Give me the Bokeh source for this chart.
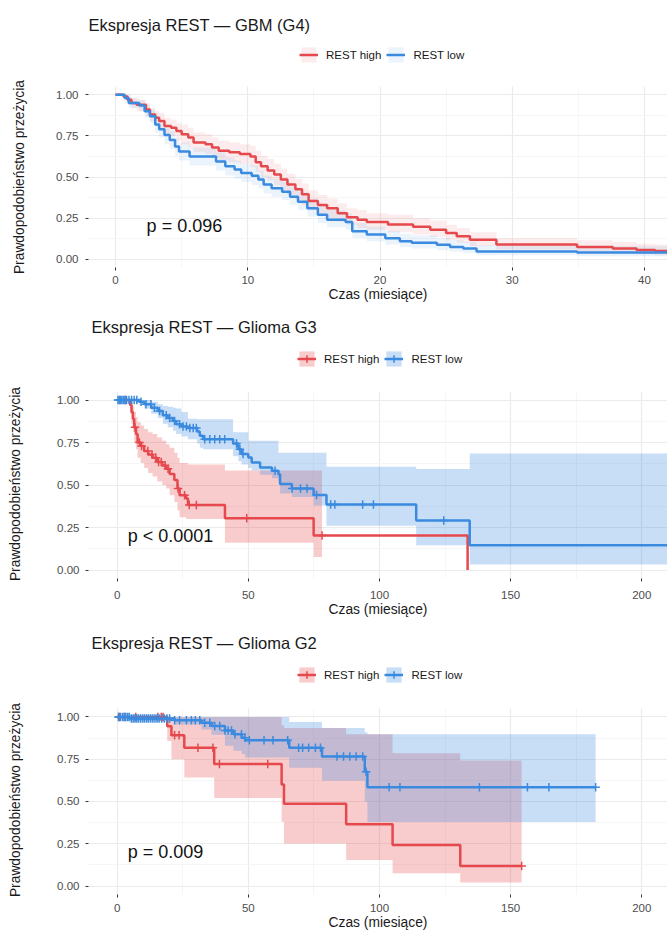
from bokeh.plotting import figure
from bokeh.models import Range1d, FixedTicker, Legend, LegendItem, NumeralTickFormatter, BoxAnnotation
from bokeh.layouts import column
from bokeh.embed import file_html
from bokeh.resources import INLINE
from bokeh.core.properties import value

RED = "#E5484D"
BLUE = "#3A8AE0"
FONT = "Liberation Sans"

# ---------------- data: GBM (G4) ----------------
gbm_high_t = [0, 0.6, 0.9, 1.2, 1.6, 2.3, 2.6, 3.0, 3.3, 3.7, 4.2, 4.6, 5.0, 5.5, 5.9, 6.8, 7.3, 7.8, 8.6, 9.4,
              10.2, 10.6, 11.0, 11.5, 12.0, 12.5, 13.0, 13.6, 14.1, 14.6, 15.3, 16.0, 16.8, 17.5, 18.3, 19.0,
              20.6, 22.5, 23.8, 25.0, 25.8, 26.8, 28.8, 34.9, 37.6, 39.4, 40.8]
gbm_high_s = [1.0, 0.99, 0.97, 0.95, 0.94, 0.91, 0.88, 0.86, 0.84, 0.81, 0.80, 0.78, 0.76, 0.74, 0.71, 0.70, 0.68,
              0.66, 0.65, 0.64, 0.625, 0.59, 0.565, 0.54, 0.515, 0.485, 0.455, 0.425, 0.395, 0.355, 0.33, 0.31,
              0.28, 0.255, 0.24, 0.227, 0.212, 0.197, 0.18, 0.16, 0.14, 0.118, 0.09, 0.075, 0.065, 0.056, 0.05]
gbm_high_lo = [1.0, 0.97, 0.94, 0.92, 0.90, 0.87, 0.84, 0.81, 0.79, 0.76, 0.75, 0.72, 0.70, 0.68, 0.65, 0.64, 0.62,
               0.60, 0.59, 0.58, 0.56, 0.53, 0.50, 0.48, 0.45, 0.42, 0.39, 0.36, 0.33, 0.30, 0.27, 0.25, 0.23, 0.21,
               0.19, 0.18, 0.165, 0.15, 0.135, 0.115, 0.10, 0.08, 0.06, 0.045, 0.037, 0.03, 0.025]
gbm_high_hi = [1.0, 1.0, 1.0, 0.98, 0.97, 0.95, 0.92, 0.90, 0.89, 0.86, 0.85, 0.83, 0.82, 0.80, 0.77, 0.76, 0.74,
               0.72, 0.71, 0.70, 0.69, 0.66, 0.63, 0.61, 0.58, 0.55, 0.52, 0.49, 0.46, 0.42, 0.39, 0.37, 0.34, 0.31,
               0.30, 0.28, 0.27, 0.25, 0.235, 0.21, 0.19, 0.165, 0.13, 0.115, 0.105, 0.095, 0.09]
gbm_low_t = [0, 0.7, 1.0, 1.8, 2.2, 2.6, 3.0, 3.3, 3.7, 4.1, 4.5, 4.8, 5.6, 7.6, 8.3, 9.0, 9.5, 10.3, 10.8, 11.2,
             11.8, 12.6, 13.2, 13.8, 14.5, 15.3, 16.0, 17.4, 17.9, 19.0, 20.4, 21.5, 22.4, 24.3, 25.3, 26.3, 27.3, 34.9]
gbm_low_s = [1.0, 0.98, 0.95, 0.935, 0.90, 0.87, 0.82, 0.79, 0.755, 0.725, 0.685, 0.655, 0.625, 0.595, 0.565, 0.545,
             0.525, 0.508, 0.485, 0.455, 0.432, 0.41, 0.38, 0.35, 0.31, 0.27, 0.24, 0.227, 0.17, 0.15, 0.128, 0.11,
             0.10, 0.089, 0.075, 0.065, 0.048, 0.041]
gbm_low_lo = [1.0, 0.95, 0.92, 0.90, 0.86, 0.83, 0.77, 0.74, 0.70, 0.67, 0.63, 0.60, 0.57, 0.54, 0.51, 0.49, 0.47,
              0.45, 0.43, 0.40, 0.38, 0.36, 0.33, 0.30, 0.26, 0.22, 0.195, 0.18, 0.13, 0.11, 0.09, 0.075, 0.065,
              0.055, 0.045, 0.036, 0.024, 0.019]
gbm_low_hi = [1.0, 1.0, 0.98, 0.97, 0.94, 0.91, 0.87, 0.84, 0.81, 0.78, 0.74, 0.71, 0.68, 0.65, 0.62, 0.60, 0.58,
              0.57, 0.54, 0.51, 0.49, 0.47, 0.44, 0.41, 0.37, 0.33, 0.30, 0.28, 0.22, 0.20, 0.175, 0.155, 0.145,
              0.13, 0.115, 0.105, 0.085, 0.08]
gbm_end = 43.0
gbm_pval = "p = 0.096"

# ---------------- data: Glioma G3 ----------------
g3_high_t = [0, 5.0, 5.5, 6.0, 6.5, 7.2, 7.8, 9.0, 10.3, 11.8, 13.5, 15.3, 17.2, 18.7, 20.0, 21.8, 23.0, 23.8,
             26.3, 27.0, 41.1, 74.9, 133.6]
g3_high_s = [1.0, 0.97, 0.93, 0.89, 0.84, 0.80, 0.75, 0.73, 0.70, 0.68, 0.66, 0.635, 0.615, 0.595, 0.565, 0.53,
             0.48, 0.44, 0.42, 0.383, 0.305, 0.203, 0.0]
g3_high_hi = [1.0, 1.0, 0.99, 0.96, 0.93, 0.90, 0.87, 0.85, 0.83, 0.81, 0.80, 0.78, 0.76, 0.74, 0.72, 0.69, 0.66,
              0.63, 0.63, 0.62, 0.585, 0.585]
g3_high_lo = [1.0, 0.92, 0.86, 0.81, 0.75, 0.71, 0.66, 0.63, 0.60, 0.57, 0.55, 0.52, 0.50, 0.48, 0.44, 0.40, 0.35,
              0.31, 0.30, 0.30, 0.16, 0.076]
g3_high_band_end = 78.1
g3_high_end = 133.6
g3_high_cens = [3.1, 6.8, 8.5, 9.3, 11.7, 13.3, 14.7, 15.8, 16.8, 18.3, 19.4, 23.2, 25.7, 27.5, 30.2, 49.4, 78.1]

g3_low_t = [0, 8.5, 10.4, 13.0, 15.5, 17.4, 19.3, 21.3, 22.5, 24.5, 27.0, 30.5, 31.5, 32.8, 44.2, 46.2, 47.4,
            50.0, 51.3, 54.5, 59.0, 61.5, 62.1, 66.6, 74.9, 79.8, 114.0, 134.4]
g3_low_s = [1.0, 0.99, 0.975, 0.955, 0.935, 0.91, 0.895, 0.877, 0.857, 0.845, 0.835, 0.815, 0.79, 0.77, 0.745,
            0.71, 0.682, 0.662, 0.633, 0.603, 0.584, 0.564, 0.506, 0.48, 0.441, 0.385, 0.291, 0.145]
g3_low_hi = [1.0, 1.0, 1.0, 0.99, 0.975, 0.965, 0.96, 0.955, 0.95, 0.93, 0.89, 0.887, 0.887, 0.887, 0.81, 0.81,
             0.81, 0.76, 0.76, 0.76, 0.76, 0.69, 0.69, 0.69, 0.69, 0.607, 0.594, 0.686]
g3_low_lo = [1.0, 0.975, 0.95, 0.92, 0.895, 0.86, 0.84, 0.82, 0.80, 0.785, 0.77, 0.745, 0.72, 0.71, 0.67, 0.64,
             0.62, 0.60, 0.585, 0.56, 0.54, 0.52, 0.45, 0.43, 0.38, 0.26, 0.145, 0.033]
g3_low_end = 225.0
g3_low_cens = [0.3, 0.8, 1.3, 1.8, 2.4, 3.0, 3.6, 4.5, 5.5, 6.5, 7.5, 9.1, 11.0, 12.9, 14.2, 16.2, 18.7, 20.0,
               21.9, 23.8, 25.1, 26.4, 27.7, 29.0, 30.2, 33.4, 35.3, 37.2, 39.1, 41.0, 45.5, 46.8, 48.0, 60.2,
               66.7, 69.9, 72.4, 76.0, 81.4, 83.0, 93.6, 97.7, 124.5]
g3_pval = "p < 0.0001"

# ---------------- data: Glioma G2 ----------------
g2_high_t = [0, 19.1, 20.7, 25.6, 37.0, 62.7, 63.6, 87.3, 105.0, 130.8]
g2_high_s = [1.0, 0.945, 0.891, 0.818, 0.721, 0.60, 0.487, 0.365, 0.242, 0.119]
g2_high_hi = [1.0, 1.0, 1.0, 1.0, 1.0, 0.95, 0.935, 0.897, 0.785, 0.742]
g2_high_lo = [1.0, 0.857, 0.749, 0.642, 0.52, 0.38, 0.252, 0.154, 0.076, 0.021]
g2_high_end = 154.2
g2_high_cens = [0.8, 3.0, 7.1, 15.5, 16.8, 17.5, 21.9, 23.6, 30.8, 36.5, 39.0, 57.4, 154.2]

g2_low_t = [0, 5.0, 21.9, 32.1, 36.0, 41.1, 44.3, 47.5, 48.8, 65.6, 78.1, 94.4, 95.4]
g2_low_s = [1.0, 0.99, 0.98, 0.965, 0.946, 0.92, 0.897, 0.877, 0.862, 0.818, 0.766, 0.676, 0.584]
g2_low_hi = [1.0, 1.0, 1.0, 1.0, 1.0, 1.0, 1.0, 1.0, 1.0, 0.97, 0.935, 0.91, 0.897]
g2_low_lo = [1.0, 0.975, 0.955, 0.925, 0.895, 0.83, 0.80, 0.78, 0.76, 0.70, 0.623, 0.50, 0.379]
g2_low_end = 182.4
g2_low_cens = [0.5, 1.2, 2.0, 2.6, 3.3, 4.0, 4.6, 5.4, 6.1, 6.8, 7.5, 8.2, 9.0, 9.8, 10.5, 11.3, 12.0, 12.8, 13.6,
               14.4, 15.2, 16.0, 17.0, 18.0, 19.0, 20.0, 21.9, 23.8, 26.4, 28.3, 29.8, 31.5, 33.4, 35.3, 37.2,
               39.1, 41.1, 42.3, 43.6, 44.9, 47.4, 48.7, 50.4, 56.0, 59.4, 65.0, 69.2, 70.7, 73.0, 75.6, 77.5,
               83.8, 86.3, 88.7, 91.1, 93.6, 94.9, 103.7, 107.8, 138.1, 156.4, 164.6, 182.4]
g2_pval = "p = 0.009"

y_ticks = [0, 0.25, 0.5, 0.75, 1.0]
y_minor = [0.125, 0.375, 0.625, 0.875]
legend_labels = ["REST high", "REST low"]
x_title = "Czas (miesiące)"
y_title = "Prawdopodobieństwo przeżycia"


def step_xy(t, v, end):
    xs, ys = [], []
    for i in range(len(v)):
        t1 = t[i + 1] if i + 1 < len(v) else end
        xs += [t[i], t1]
        ys += [v[i], v[i]]
    return xs, ys


def surv_at(t, s, times):
    out = []
    for x in times:
        idx = max(i for i, tt in enumerate(t) if tt <= x)
        out.append(s[idx])
    return out


def make_panel(title, groups, x_range, x_ticks, x_minor, band_alpha, pval, pval_x,
               height, top, frame_h, px_per_unit, left, title_offset, title_standoff,
               ylab_standoff, ylab_pad, ytick_standoff, xtick_standoff, xlab_standoff, legend_x, legend_y):
    y_end = -0.05 + frame_h / px_per_unit
    p = figure(width=667, height=height, x_range=Range1d(*x_range), y_range=Range1d(-0.05, y_end),
               output_backend="svg", toolbar_location=None, title=title,
               min_border_left=int(left), min_border_right=0, min_border_top=int(top),
               min_border_bottom=int(height - top - frame_h))
    p.outline_line_color = None
    p.background_fill_color = "white"
    p.border_fill_color = "white"
    p.title.text_font = FONT
    p.title.text_font_size = "16.5px"
    p.title.text_font_style = "normal"
    p.title.text_color = "#1a1a1a"
    p.title.offset = title_offset
    p.title.standoff = title_standoff

    p.xaxis.ticker = FixedTicker(ticks=x_ticks, minor_ticks=x_minor)
    p.yaxis.ticker = FixedTicker(ticks=y_ticks, minor_ticks=y_minor)
    p.yaxis.formatter = NumeralTickFormatter(format="0.00")
    for ax in (p.xaxis[0], p.yaxis[0]):
        ax.axis_line_color = None
        ax.major_tick_line_color = "#333333"
        ax.major_tick_out = 3
        ax.major_tick_in = 0
        ax.minor_tick_line_color = None
        ax.major_label_text_font = FONT
        ax.major_label_text_font_size = "11.5px"
        ax.major_label_text_color = "#4D4D4D"
        ax.axis_label_text_font = FONT
        ax.axis_label_text_font_size = "13.8px"
        ax.axis_label_text_font_style = "normal"
        ax.axis_label_text_color = "#1a1a1a"
    p.xaxis.axis_label = x_title
    # trailing no-break spaces keep the y title centred on the survival panel
    # (the frame also holds the legend strip above it)
    p.yaxis.axis_label = y_title + "\u00a0" * ylab_pad
    p.xaxis.major_label_standoff = xtick_standoff
    p.xaxis.axis_label_standoff = xlab_standoff
    p.yaxis.major_label_standoff = ytick_standoff
    p.yaxis.axis_label_standoff = ylab_standoff

    for g in (p.xgrid[0], p.ygrid[0]):
        g.grid_line_color = "#EBEBEB"
        g.grid_line_width = 1.2
        g.minor_grid_line_color = "#F4F4F4"
        g.minor_grid_line_width = 0.8

    bands, lines, cens = [], [], []
    for grp in groups:
        bx, blo = step_xy(grp["t"], grp["lo"], grp["band_end"])
        _, bhi = step_xy(grp["t"], grp["hi"], grp["band_end"])
        bands.append(p.varea(x=bx, y1=blo, y2=bhi, fill_color=grp["color"], fill_alpha=band_alpha))
    for grp in groups:
        lx = list(grp["t"]) + [grp["end"]]
        ly = list(grp["s"]) + [grp["s"][-1]]
        lines.append(p.step(x=lx, y=ly, mode="after", line_color=grp["color"], line_width=2.5))
    for grp in groups:
        if grp.get("cens"):
            cy = surv_at(grp["t"], grp["s"], grp["cens"])
            cens.append(p.scatter(x=grp["cens"], y=cy, marker="cross", size=8.5, line_width=1.5,
                                  line_color=grp["color"]))
        else:
            cens.append(None)

    # white header strip above the panel (legend area inside the frame)
    p.add_layout(BoxAnnotation(bottom=1.05, fill_color="white", fill_alpha=1.0, line_color=None,
                               level="underlay"))

    items = []
    for i, grp in enumerate(groups):
        rs = [bands[i], lines[i]] + ([cens[i]] if cens[i] is not None else [])
        items.append(LegendItem(label=legend_labels[i], renderers=rs))
    legend = Legend(items=items, orientation="horizontal", location=(legend_x, legend_y),
                    glyph_width=19, glyph_height=19, label_height=19,
                    label_text_font=FONT, label_text_font_size="11.5px", label_text_color="#1a1a1a",
                    label_standoff=8, spacing=5, padding=0, margin=0,
                    border_line_color=None, background_fill_alpha=0)
    p.add_layout(legend, "center")

    p.text(x=[pval_x], y=[0.2], text=[pval], text_font=value(FONT), text_font_size="18px",
           text_baseline="middle", text_align="left", text_color="#111111")
    return p


p1 = make_panel(
    "Ekspresja REST — GBM (G4)",
    [dict(t=gbm_high_t, s=gbm_high_s, lo=gbm_high_lo, hi=gbm_high_hi, band_end=gbm_end, end=gbm_end, color=RED),
     dict(t=gbm_low_t, s=gbm_low_s, lo=gbm_low_lo, hi=gbm_low_hi, band_end=gbm_end, end=gbm_end, color=BLUE)],
    (-2.045, 41.74), [0, 10, 20, 30, 40], [5, 15, 25, 35], 0.1, gbm_pval, 2.35,
    height=304, top=44, frame_h=223, px_per_unit=164.5, left=86, title_offset=0, title_standoff=22,
    ylab_standoff=26, ylab_pad=11, ytick_standoff=6, xtick_standoff=4, xlab_standoff=0,
    legend_x=211, legend_y=203)

p2 = make_panel(
    "Ekspresja REST — Glioma G3",
    [dict(t=g3_high_t, s=g3_high_s, lo=g3_high_lo, hi=g3_high_hi, band_end=g3_high_band_end,
          end=g3_high_end, color=RED, cens=g3_high_cens),
     dict(t=g3_low_t, s=g3_low_s, lo=g3_low_lo, hi=g3_low_hi, band_end=g3_low_end, end=g3_low_end,
          color=BLUE, cens=g3_low_cens)],
    (-10.92, 209.8), [0, 50, 100, 150, 200], [25, 75, 125, 175], 0.28, g3_pval, 4.0,
    height=315, top=42, frame_h=232, px_per_unit=170.7, left=88, title_offset=3, title_standoff=23,
    ylab_standoff=31, ylab_pad=11, ytick_standoff=5, xtick_standoff=8, xlab_standoff=0,
    legend_x=209, legend_y=210)

p3 = make_panel(
    "Ekspresja REST — Glioma G2",
    [dict(t=g2_high_t, s=g2_high_s, lo=g2_high_lo, hi=g2_high_hi, band_end=g2_high_end, end=g2_high_end,
          color=RED, cens=g2_high_cens),
     dict(t=g2_low_t, s=g2_low_s, lo=g2_low_lo, hi=g2_low_hi, band_end=g2_low_end, end=g2_low_end,
          color=BLUE, cens=g2_low_cens)],
    (-10.92, 209.8), [0, 50, 100, 150, 200], [25, 75, 125, 175], 0.28, g2_pval, 4.0,
    height=313, top=43, frame_h=233, px_per_unit=170.6, left=88, title_offset=3, title_standoff=24,
    ylab_standoff=31, ylab_pad=11, ytick_standoff=5, xtick_standoff=5, xlab_standoff=0,
    legend_x=209, legend_y=210)

layout = column(p1, p2, p3, spacing=0)
open("out.html", "w").write(file_html(layout, INLINE))
